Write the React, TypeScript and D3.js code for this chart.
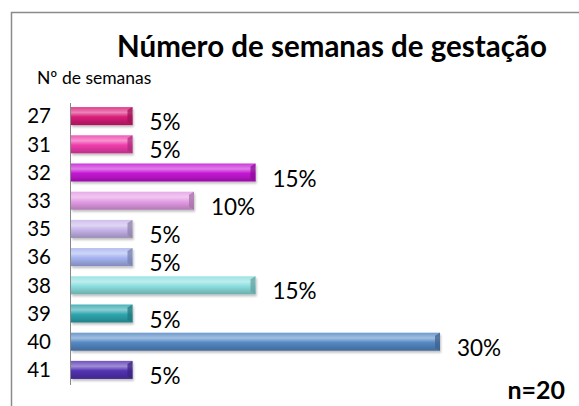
import React from "react";
import * as d3 from "d3";

const categories = ["27", "31", "32", "33", "35", "36", "38", "39", "40", "41"];
const percents = [5, 5, 15, 10, 5, 5, 15, 5, 30, 5];
const colors = ["#d81c78", "#f03cac", "#c414d4", "#e49ce6", "#c6b4ea", "#a4b2f0", "#8adede", "#2ea6ae", "#5488c4", "#5232b2"];
const title = "Número de semanas de gestação";
const axisTitle = "Nº de semanas";
const note = "n=20";

const W = 579;
const H = 406;
const FONT = "Lato, 'Open Sans', sans-serif";

export default function App() {
  const x = d3.scaleLinear().domain([0, 30]).range([71, 440]);
  const y = d3.scaleBand<string>().domain(categories).range([102, 384]).paddingInner(0.36).paddingOuter(0.18);
  const bh = y.bandwidth();

  return (
    <svg width={W} height={H} style={{ position: "absolute", left: 0, top: 0, background: "#fff" }}>
      <defs>
        {colors.map((c, i) => {
          const base = d3.color(c)!;
          const light = d3.interpolateRgb(c, "#ffffff")(0.45);
          const dark = d3.color(c)!.darker(0.7).formatHex();
          return (
            <linearGradient key={i} id={`g${i}`} x1="0" y1="0" x2="0" y2="1">
              <stop offset="0" stopColor={d3.interpolateRgb(c, "#ffffff")(0.15)} />
              <stop offset="0.3" stopColor={light} />
              <stop offset="0.55" stopColor={base.formatHex()} />
              <stop offset="1" stopColor={dark} />
            </linearGradient>
          );
        })}
        <filter id="sh" x="-5%" y="-20%" width="110%" height="160%">
          <feDropShadow dx="1" dy="2" stdDeviation="1.2" floodColor="#000" floodOpacity="0.25" />
        </filter>
      </defs>
      <rect x={11.5} y={12.5} width={700} height={500} fill="#fff" stroke="#8a8a8a" strokeWidth={1.5} />
      <text x={332} y={57} textAnchor="middle" fontFamily={FONT} fontWeight="bold" fontSize={29.5} fill="#000">
        {title}
      </text>
      <text x={37} y={84} fontFamily={FONT} fontSize={17.5} fill="#000">
        {axisTitle}
      </text>
      {categories.map((c, i) => {
        const y0 = y(c)!;
        const x0 = x(0);
        const x1 = x(percents[i]);
        const bev = 5;
        const dark = d3.color(colors[i])!.darker(0.9).formatHex();
        return (
          <g key={c}>
            <g filter="url(#sh)">
              <rect x={x0} y={y0} width={x1 - x0} height={bh} fill={`url(#g${i})`} />
              <polygon
                points={`${x1 - bev},${y0 + bev * 0.6} ${x1},${y0} ${x1},${y0 + bh} ${x1 - bev},${y0 + bh - bev * 0.6}`}
                fill={dark}
                opacity={0.75}
              />
            </g>
            <text x={51} y={y0 + bh / 2} dy="0.36em" textAnchor="end" fontFamily={FONT} fontSize={20.5} fill="#000">
              {c}
            </text>
            <text x={x1 + 17} y={y0 + bh / 2 + 6} dy="0.36em" fontFamily={FONT} fontSize={22.5} fill="#000">
              {`${percents[i]}%`}
            </text>
          </g>
        );
      })}
      <line x1={70.5} x2={70.5} y1={103} y2={385} stroke="#888" strokeWidth={1} />
      <text x={565} y={399} textAnchor="end" fontFamily={FONT} fontWeight="bold" fontSize={25} fill="#000">
        {note}
      </text>
    </svg>
  );
}
